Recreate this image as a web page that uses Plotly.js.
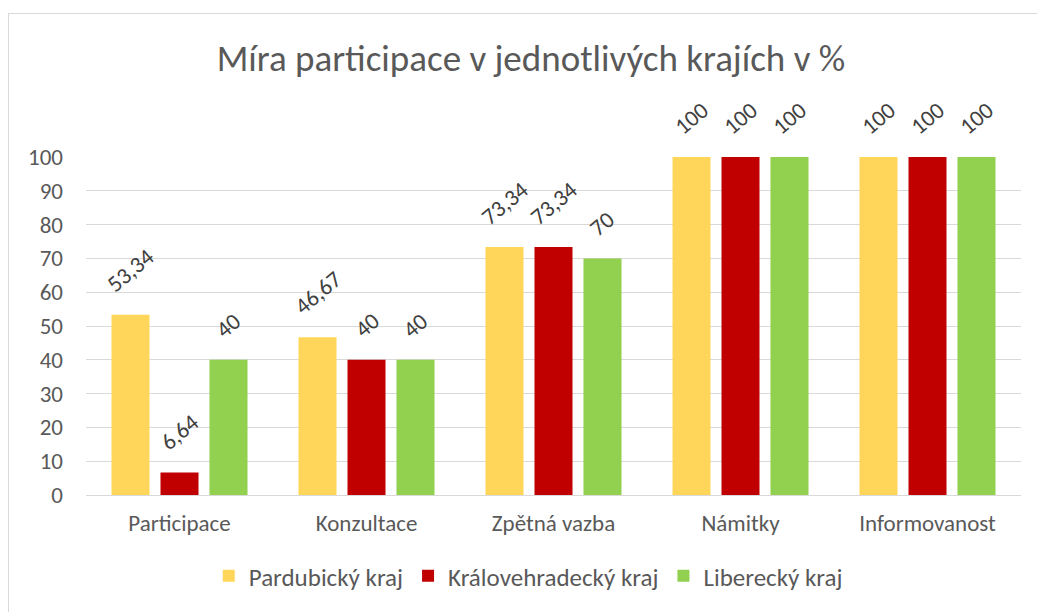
<!DOCTYPE html>
<html>
<head>
<meta charset="utf-8">
<script src="https://cdn.plot.ly/plotly-3.0.1.min.js"></script>
<style>
html,body{margin:0;padding:0;background:#fff;}
#frame{position:absolute;left:8px;top:13px;width:1040px;height:610px;border:1px solid #d9d9d9;box-sizing:border-box;pointer-events:none;z-index:5;}
#chart{width:1037px;height:612px;}
</style>
</head>
<body>
<div id="frame"></div>
<div id="chart"></div>
<script>
const categories = ["Participace", "Konzultace", "Zpětná vazba", "Námitky", "Informovanost"];
const seriesNames = ["Pardubický kraj", "Královehradecký kraj", "Liberecký kraj"];
const pardubicky = [53.34, 46.67, 73.34, 100, 100];
const kralovehradecky = [6.64, 40, 73.34, 100, 100];
const liberecky = [40, 40, 70, 100, 100];
const colors = ["#FFD65A", "#C00000", "#92D050"];
const yTicks = [0,10,20,30,40,50,60,70,80,90,100];

const allSeries = [pardubicky, kralovehradecky, liberecky];
const font = "Calibri, Carlito, 'Open Sans', 'Noto Sans', sans-serif";
const W = 1037, H = 612;
const margin = {l: 86, r: 16, t: 157, b: 117};
const bargap = 0.214, bargroupgap = 0.224;

const traces = allSeries.map((vals, i) => ({
  type: "bar",
  name: seriesNames[i],
  x: categories,
  y: vals,
  marker: {color: colors[i]},
  hoverinfo: "none"
}));

// data labels as annotations placed via axis coordinates
const plotW = W - margin.l - margin.r;
const slot = plotW / categories.length * (1 - bargap) / allSeries.length;
const fmt = v => String(v).replace(".", ",");
const annotations = [];
allSeries.forEach((vals, i) => {
  vals.forEach((v, j) => {
    annotations.push({
      x: categories[j], y: v, xref: "x", yref: "y",
      text: fmt(v), showarrow: false, textangle: -40,
      xanchor: "center", yanchor: "bottom",
      xshift: (i - 1) * slot, yshift: 14,
      font: {family: font, size: 23, color: "#404040"}
    });
  });
});

const layout = {
  width: W, height: H,
  margin: margin,
  paper_bgcolor: "#fff", plot_bgcolor: "#fff",
  separators: ", ",
  barmode: "group",
  bargap: bargap,
  bargroupgap: bargroupgap,
  title: {text: "Míra participace v jednotlivých krajích v %", x: 0.512, xanchor: "center", y: 0.905, yanchor: "middle",
          font: {family: font, size: 37, color: "#595959"}},
  xaxis: {type: "category", showgrid: false, showline: false, ticks: "",
          tickfont: {family: font, size: 23, color: "#595959"}, ticklabelstandoff: 12, fixedrange: true},
  yaxis: {range: [0, 100], tickvals: yTicks, showgrid: true, gridcolor: "#d9d9d9", gridwidth: 1,
          zeroline: true, zerolinecolor: "#d9d9d9", zerolinewidth: 1, showline: false, ticks: "",
          tickfont: {family: font, size: 23, color: "#595959"}, ticklabelstandoff: 22, fixedrange: true},
  legend: {orientation: "h", x: 0.473, xanchor: "center", y: -0.24, yanchor: "middle",
           font: {family: font, size: 25, color: "#595959"}, itemwidth: 30, traceorder: "normal"},
  annotations: annotations,
  showlegend: true
};
Plotly.newPlot("chart", traces, layout, {displayModeBar: false, staticPlot: true});
</script>
</body>
</html>
